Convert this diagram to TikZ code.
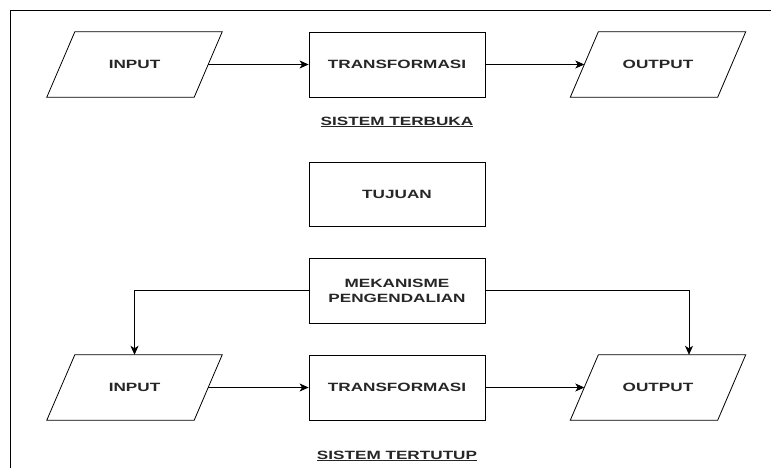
\documentclass[tikz,border=0pt]{standalone}
\usepackage{fontspec}
\newfontfamily\lblfont[FakeStretch=1.43]{Liberation Sans}
\usetikzlibrary{arrows.meta}
\tikzset{
  x=1pt, y=-1pt,
  every node/.style={font=\lblfont\bfseries\fontsize{12}{15}\selectfont, text=black!85},
  box/.style={draw, line width=0.8pt, minimum width=176pt, minimum height=65pt, align=center, inner sep=0pt},
  % parallelogram drawn around an invisible rectangle; east/west anchors sit on the slanted sides
  para/.style={minimum width=147pt, minimum height=65pt, inner sep=0pt,
    append after command={
      \pgfextra{\draw[line width=0.8pt]
        ([xshift=14pt]\tikzlastnode.north west) -- ([xshift=14pt]\tikzlastnode.north east) --
        ([xshift=-14pt]\tikzlastnode.south east) -- ([xshift=-14pt]\tikzlastnode.south west) -- cycle;}}},
  flow/.style={line width=0.8pt, -{Stealth[length=9pt, width=8pt, inset=2.5pt]}},
  caption/.style={font=\lblfont\bfseries\fontsize{12}{15}\selectfont}
}
\begin{document}
\begin{tikzpicture}
\useasboundingbox (0,0) rectangle (771,468);
% page frame
\draw[line width=0.8pt] (10,468) -- (10,10) -- (771,10);

% open system
\node[para] (in1) at (134.5,64.5) {INPUT};
\node[box] (tr1) at (397,64.5) {TRANSFORMASI};
\node[para] (out1) at (658,64.5) {OUTPUT};
\node[caption] (cap1) at (397,122) {\underline{SISTEM TERBUKA}};
\draw[flow] (in1.east) -- (tr1.west);
\draw[flow] (tr1.east) -- (out1.west);

% goal and control
\node[box, minimum height=64pt] (goal) at (397,194) {TUJUAN};
\node[box] (ctrl) at (397,290.5) {MEKANISME\\PENGENDALIAN};

% closed system
\node[para] (in2) at (134.5,387.5) {INPUT};
\node[box] (tr2) at (397,387.5) {TRANSFORMASI};
\node[para] (out2) at (658,387.5) {OUTPUT};
\node[caption] (cap2) at (397,456) {\underline{SISTEM TERTUTUP}};
\draw[flow] (in2.east) -- (tr2.west);
\draw[flow] (tr2.east) -- (out2.west);
\draw[flow] (ctrl.west) -| (in2.north);
\draw[flow] (ctrl.east) -| ([xshift=31pt]out2.north);
\end{tikzpicture}
\end{document}
